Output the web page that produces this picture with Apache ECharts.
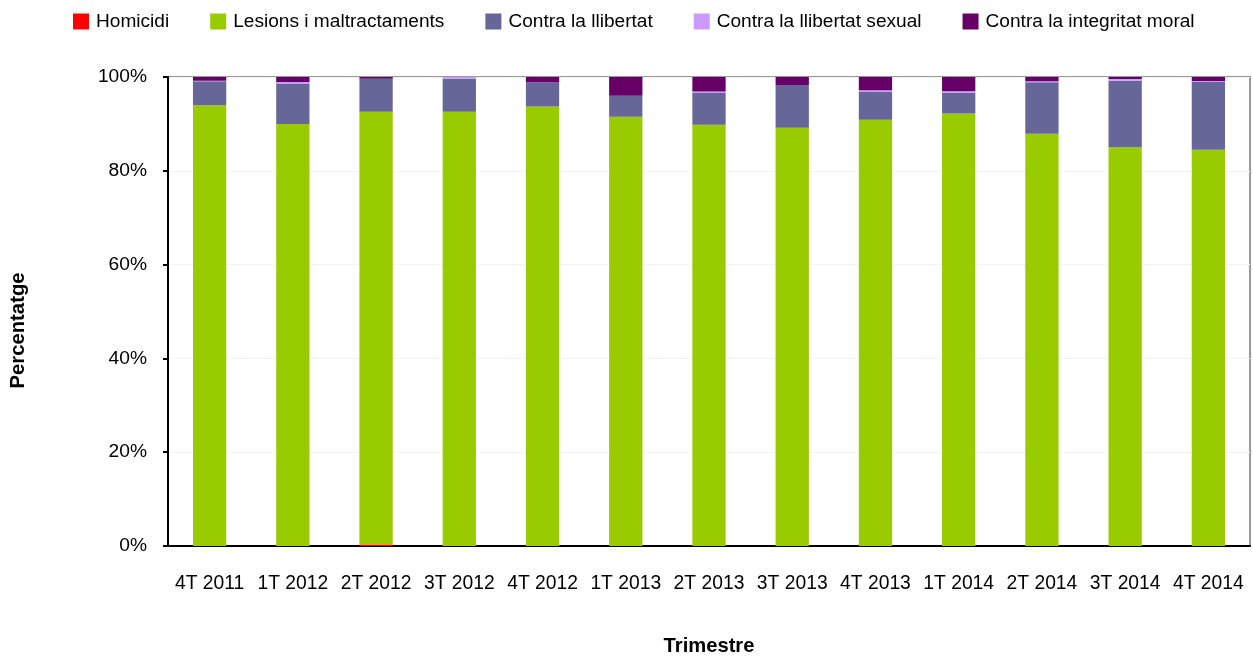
<!DOCTYPE html>
<html>
<head>
<meta charset="utf-8">
<script src="https://cdn.jsdelivr.net/npm/echarts@6/dist/echarts.min.js"></script>
<style>
html, body { margin: 0; padding: 0; background: #fff; overflow: hidden; }
#chart { width: 1253px; height: 661px; }
</style>
</head>
<body>
<div id="chart"></div>
<script type="text/javascript">
var categories = ['4T 2011', '1T 2012', '2T 2012', '3T 2012', '4T 2012', '1T 2013', '2T 2013',
                  '3T 2013', '4T 2013', '1T 2014', '2T 2014', '3T 2014', '4T 2014'];
var homicidi   = [0, 0, 0.3, 0, 0, 0, 0, 0, 0, 0, 0, 0, 0];
var lesions    = [94.0, 90.0, 92.3, 92.6, 93.7, 91.5, 89.8, 89.2, 90.9, 92.2, 87.9, 85.0, 84.5];
var llibertat  = [5.1, 8.6, 7.05, 7.05, 5.2, 4.5, 6.8, 9.1, 5.9, 4.45, 11.0, 14.2, 14.45];
var sexual     = [0.1, 0.35, 0, 0.35, 0, 0, 0.3, 0, 0.4, 0.3, 0.2, 0.4, 0.2];
var moral      = [0.8, 1.05, 0.35, 0, 1.1, 4.0, 3.1, 1.7, 2.8, 3.05, 0.9, 0.4, 0.85];
var yTicks     = [0, 20, 40, 60, 80, 100];

var font = "'Liberation Sans', Arial, sans-serif";

var myChart = echarts.init(document.getElementById('chart'));

function bar(name, data, color) {
    return {
        name: name,
        type: 'bar',
        stack: 'total',
        barWidth: '40%',
        data: data,
        itemStyle: { color: color },
        emphasis: { disabled: true }
    };
}

var option = {
    animation: false,
    textStyle: { fontFamily: font },
    legend: {
        left: 73,
        top: 12,
        padding: 0,
        itemWidth: 16,
        itemHeight: 16,
        itemGap: 41,
        icon: 'rect',
        textStyle: { fontFamily: font, fontSize: 19.1, color: '#000', padding: [0, 0, 0, 2] }
    },
    grid: {
        left: 167,
        right: 3,
        top: 77,
        bottom: 112,
        show: true,
        borderColor: '#999',
        borderWidth: 2
    },
    xAxis: {
        type: 'category',
        data: categories,
        name: 'Trimestre',
        nameLocation: 'middle',
        nameGap: 90,
        nameTextStyle: { fontFamily: font, fontSize: 20.2, fontWeight: 'bold', color: '#000' },
        axisLine: { lineStyle: { color: '#000', width: 2 } },
        axisTick: { length: 8, lineStyle: { color: '#000', width: 2 } },
        axisLabel: { interval: 0, fontFamily: font, fontSize: 19.3, color: '#000', margin: 28 }
    },
    yAxis: {
        type: 'value',
        min: yTicks[0],
        max: yTicks[yTicks.length - 1],
        interval: 20,
        name: 'Percentatge',
        nameLocation: 'middle',
        nameGap: 140,
        nameTextStyle: {
            fontFamily: font,
            fontSize: 20.3, fontWeight: 'bold', color: '#000',
            padding: [0, 0, 0, -38]
        },
        axisLine: { show: true, lineStyle: { color: '#000', width: 2 } },
        axisTick: { show: true, length: 5, lineStyle: { color: '#000', width: 2 } },
        axisLabel: { fontFamily: font, fontSize: 19.2, color: '#000', margin: 21, formatter: '{value}%' },
        splitLine: { show: true, lineStyle: { color: '#f3f3f3', width: 1 } }
    },
    series: [
        bar('Homicidi', homicidi, '#FF0000'),
        bar('Lesions i maltractaments', lesions, '#99CC00'),
        bar('Contra la llibertat', llibertat, '#666699'),
        bar('Contra la llibertat sexual', sexual, '#CC99FF'),
        bar('Contra la integritat moral', moral, '#660066')
    ]
};

if (option && typeof option === "object") {
    myChart.setOption(option, true);
}
</script>
</body>
</html>
